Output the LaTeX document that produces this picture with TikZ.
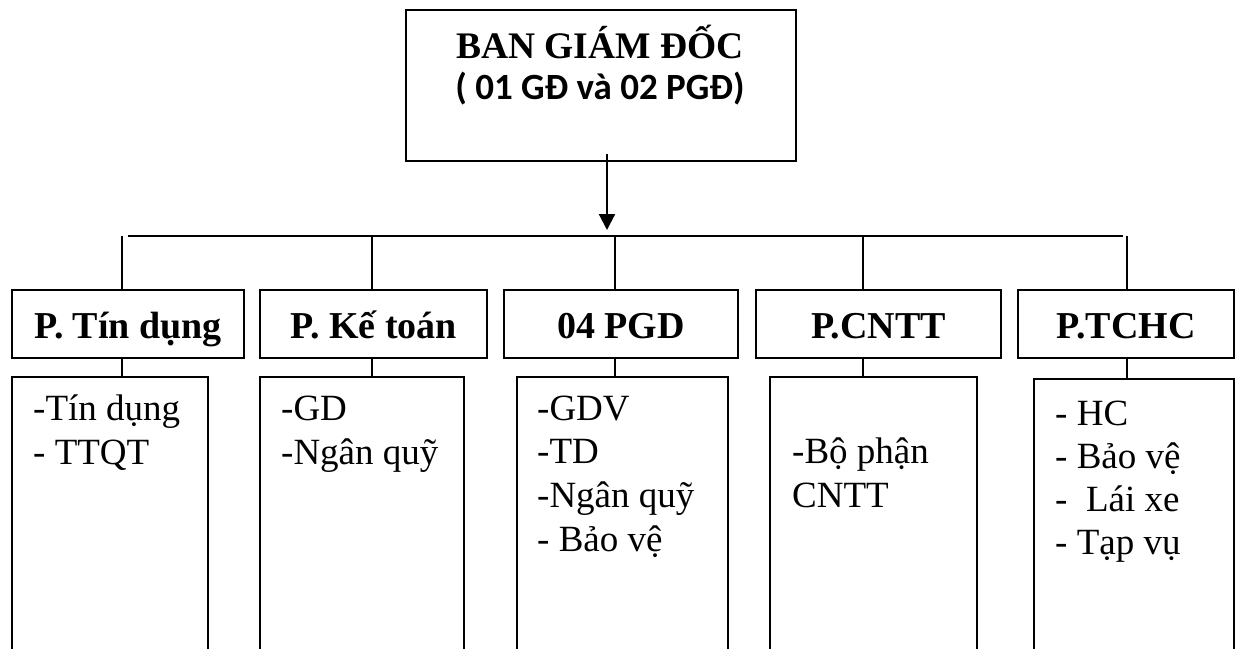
\documentclass[tikz,border=0pt]{standalone}
\usepackage{fontspec}
\setmainfont{Liberation Serif}
\newfontfamily\calibrifont{Carlito}
\usetikzlibrary{arrows.meta}

\tikzset{
  box/.style={draw, line width=2.2pt, rectangle, inner sep=0pt, anchor=north west},
  headtext/.style={font=\fontsize{38}{42}\selectfont\bfseries, text height=30pt, text depth=2pt},
  item/.style={font=\fontsize{37}{44}\selectfont, inner sep=0pt, anchor=base west},
  link/.style={line width=2.2pt},
}

\begin{document}
\begin{tikzpicture}[x=1pt, y=-1pt]
  \useasboundingbox (0,0) rectangle (1236,648);
  \clip (0,0) rectangle (1236,648);

  % board of directors
  \node[box, minimum width=390pt, minimum height=151pt] (gd) at (405,9) {};
  \node[font=\fontsize{37.5}{44}\selectfont\bfseries, anchor=base, inner sep=0pt] (gdtitle) at (600,58) {BAN GIÁM ĐỐC};
  \node[font=\fontsize{37}{44}\selectfont\calibrifont\bfseries, anchor=base, inner sep=0pt] (gdsub) at (600,99) {( 01 GĐ và 02 PGĐ)};

  % department headers
  \node[box, headtext, minimum width=232pt, minimum height=68pt] (h1) at (11,289) {P. Tín dụng};
  \node[box, headtext, minimum width=227pt, minimum height=68pt] (h2) at (259,289) {P. Kế toán};
  \node[box, headtext, minimum width=234pt, minimum height=68pt] (h3) at (503,289) {04 PGD};
  \node[box, headtext, minimum width=245pt, minimum height=68pt] (h4) at (755,289) {P.CNTT};
  \node[box, headtext, minimum width=216pt, minimum height=68pt] (h5) at (1017,289) {P.TCHC};

  % detail boxes (run past the lower edge)
  \node[box, minimum width=196pt, minimum height=320pt] (l1) at (11,376) {};
  \node[box, minimum width=204pt, minimum height=320pt] (l2) at (259,376) {};
  \node[box, minimum width=211pt, minimum height=320pt] (l3) at (516,376) {};
  \node[box, minimum width=207pt, minimum height=320pt] (l4) at (769,376) {};
  \node[box, minimum width=200pt, minimum height=320pt] (l5) at (1033,378) {};

  % detail texts
  \foreach \t [count=\i] in {-Tín dụng, - TTQT}
    \node[item] (t1-\i) at (33,{420+44*(\i-1)}) {\t};
  \foreach \t [count=\i] in {-GD, -Ngân quỹ}
    \node[item] (t2-\i) at (281,{420+44*(\i-1)}) {\t};
  \foreach \t [count=\i] in {-GDV, -TD, -Ngân quỹ, - Bảo vệ}
    \node[item] (t3-\i) at (537,{420+43.7*(\i-1)}) {\t};
  \foreach \t [count=\i] in {-Bộ phận, CNTT}
    \node[item] (t4-\i) at (792,{463+44*(\i-1)}) {\t};
  \foreach \t [count=\i] in {- HC, - Bảo vệ, -~ Lái xe, - Tạp vụ}
    \node[item] (t5-\i) at (1055,{425+43*(\i-1)}) {\t};

  % bus points
  \coordinate (bl) at (128,236);
  \coordinate (br) at (1123,236);
  \coordinate (b1) at (122,236);
  \coordinate (b2) at (372,236);
  \coordinate (b3) at (615,236);
  \coordinate (b4) at (863,236);
  \coordinate (b5) at (1127,236);
  \coordinate (arrtip) at (607,230);

  % arrow from the board down to the bus
  \draw[link, -{Triangle[length=16pt, width=16pt]}] ([yshift=8pt]gd.south -| arrtip) -- (arrtip);
  \draw[link] (bl) -- (br);

  % drops to the departments and their detail boxes
  \foreach \k in {1,...,5} {
    \draw[link] (b\k) -- (b\k |- h\k.north);
    \draw[link] (b\k |- h\k.south) -- (b\k |- l\k.north);
  }
\end{tikzpicture}
\end{document}
